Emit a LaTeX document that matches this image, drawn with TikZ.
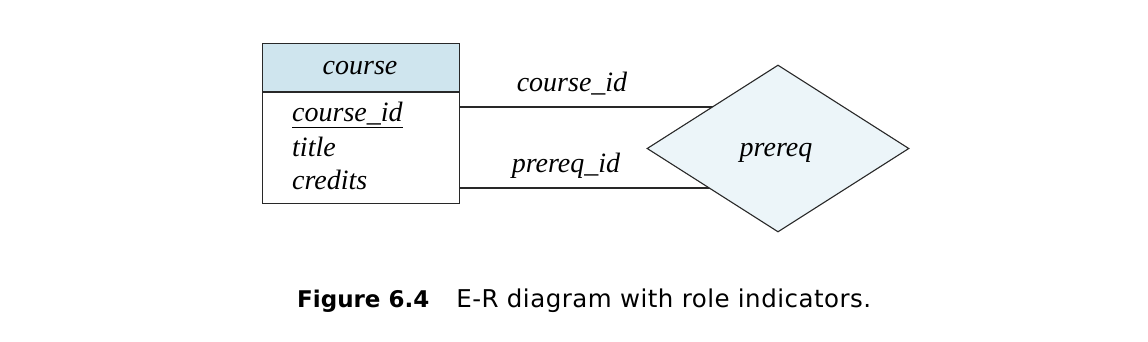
\documentclass[tikz,border=0pt]{standalone}
\usepackage{fontspec}
\setmainfont{Liberation Serif}
\newfontfamily\capfont{DejaVu Sans}
\newfontfamily\capwide[LetterSpace=2]{DejaVu Sans}
\usetikzlibrary{shapes.geometric}
\definecolor{hdrblue}{RGB}{207,229,238}
\definecolor{relblue}{RGB}{236,245,249}
\definecolor{linegray}{RGB}{40,40,40}
\tikzset{
  er/.style={draw=linegray, line width=1.1pt},
  etxt/.style={font=\fontsize{28}{32}\selectfont\itshape, inner sep=0pt, anchor=base},
  attr/.style={font=\fontsize{28}{32}\selectfont\itshape, inner sep=0pt, anchor=base west},
}
\begin{document}
\begin{tikzpicture}[x=1pt,y=-1pt]
\useasboundingbox (0,0) rectangle (1148,342);
% entity
\node[er, fill=hdrblue, minimum width=197pt, minimum height=48pt, inner sep=0pt, anchor=north west] (hdr) at (262,43) {};
\node[er, minimum width=197pt, minimum height=111pt, inner sep=0pt, anchor=north] (body) at (hdr.south) {};
\node[etxt] (hdrtxt) at (360,75) {course};
\node[attr] (a1) at (292,122) {\underline{course\_id}};
\node[attr] (a2) at (292,157) {title};
\node[attr] (a3) at (292,189) {credits};
% connectors
\coordinate (dc) at (778,148.5);
\coordinate (c1) at (459,107);
\coordinate (c2) at (459,188);
\draw[er] (c1) -- (c1 -| dc);
\draw[er] (c2) -- (c2 -| dc);
% relationship
\node[er, draw, diamond, fill=relblue, minimum width=262pt, minimum height=167pt, inner sep=0pt, aspect=1.57] (rel) at (dc) {};
\node[etxt] (reltxt) at (776,157) {prereq};
\node[etxt] (l1) at (572,92) {course\_id};
\node[etxt] (l2) at (566,172) {prereq\_id};
% caption
\node[inner sep=0pt, anchor=base west] (cap) at (297,307) {\capfont\fontsize{23}{28}\selectfont\textbf{Figure 6.4}\hspace{27pt}\capwide\fontsize{24.5}{28}\selectfont E-R diagram with role indicators.};
\end{tikzpicture}
\end{document}
